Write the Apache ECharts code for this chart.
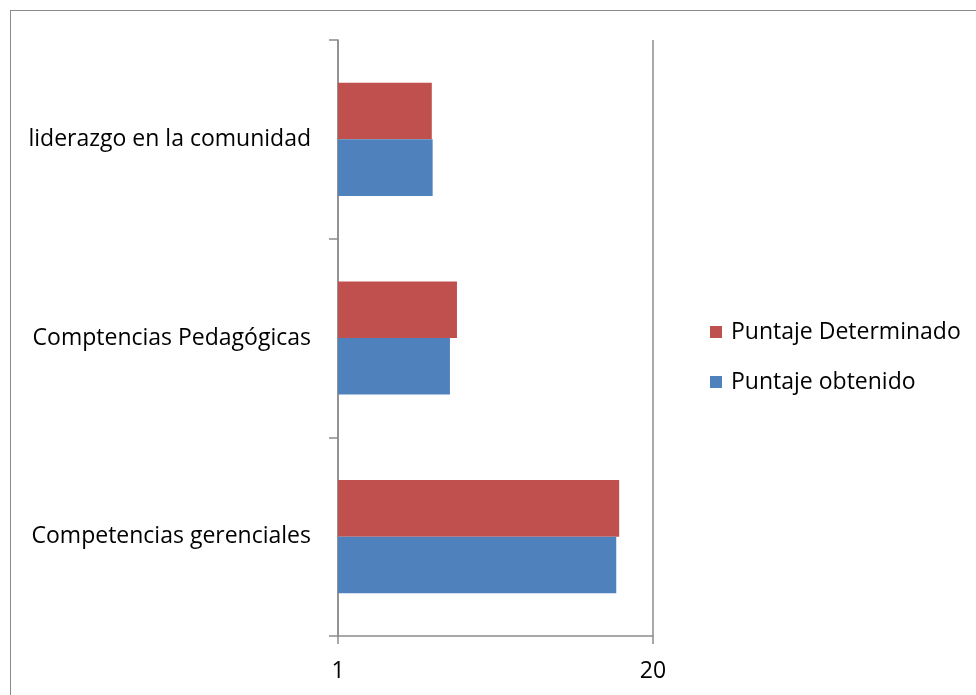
<!DOCTYPE html>
<html>
<head>
<meta charset="utf-8">
<script src="https://cdn.jsdelivr.net/npm/echarts@6/dist/echarts.min.js"></script>
<style>
  html, body { margin: 0; padding: 0; background: #fff; }
  #frame { position: absolute; left: 10px; top: 10px; width: 980px; height: 700px; border: 1px solid #8a8a8a; box-sizing: border-box; }
  #chart { position: absolute; left: 0; top: 0; width: 976px; height: 695px; }
</style>
</head>
<body>
<div id="frame"></div>
<div id="chart"></div>
<script>
// Competency areas, bottom to top on the category axis
const categories = ['Competencias gerenciales', 'Comptencias Pedagógicas', 'liderazgo en la comunidad'];
// Scores per area
const puntajeDeterminado = [14.5, 3.1, 2.44];
const puntajeObtenido = [14.1, 2.9, 2.46];
const seriesNames = ['Puntaje Determinado', 'Puntaje obtenido'];

const FONT = '"Open Sans", "Noto Sans", sans-serif';
const FS = 23;
const axisGray = '#8c8c8c';

const chart = echarts.init(document.getElementById('chart'), null, { renderer: 'canvas' });
chart.setOption({
  animation: false,
  backgroundColor: 'transparent',
  grid: { left: 338, right: 323, top: 40, bottom: 59, containLabel: false },
  legend: {
    data: seriesNames,
    orient: 'vertical',
    left: 705,
    top: 315,
    itemWidth: 12,
    itemHeight: 12,
    itemGap: 26,
    icon: 'rect',
    textStyle: { fontFamily: FONT, fontSize: FS, lineHeight: 24, color: '#000', padding: [0, 0, 0, 4] }
  },
  xAxis: {
    type: 'log',
    logBase: 20,
    min: 1,
    max: 20,
    axisLine: { show: true, lineStyle: { color: axisGray, width: 1.5 } },
    axisTick: { show: true, length: 8, lineStyle: { color: axisGray, width: 1.5 } },
    splitLine: { show: true, lineStyle: { color: axisGray, width: 1.5 } },
    minorTick: { show: false },
    axisLabel: { fontFamily: FONT, fontSize: FS, color: '#000', margin: 24 }
  },
  yAxis: {
    type: 'category',
    data: categories,
    axisLine: { show: true, lineStyle: { color: axisGray, width: 1.5 } },
    axisTick: { show: true, length: 9, inside: false, lineStyle: { color: axisGray, width: 1.5 } },
    axisLabel: { fontFamily: FONT, fontSize: FS, color: '#000', margin: 27 }
  },
  series: [
    {
      name: 'Puntaje Determinado',
      type: 'bar',
      data: puntajeDeterminado,
      itemStyle: { color: '#c0504d' },
      barGap: '0%',
      barCategoryGap: '43%'
    },
    {
      name: 'Puntaje obtenido',
      type: 'bar',
      data: puntajeObtenido,
      itemStyle: { color: '#4f81bd' },
      barGap: '0%',
      barCategoryGap: '43%'
    }
  ]
});
</script>
</body>
</html>
